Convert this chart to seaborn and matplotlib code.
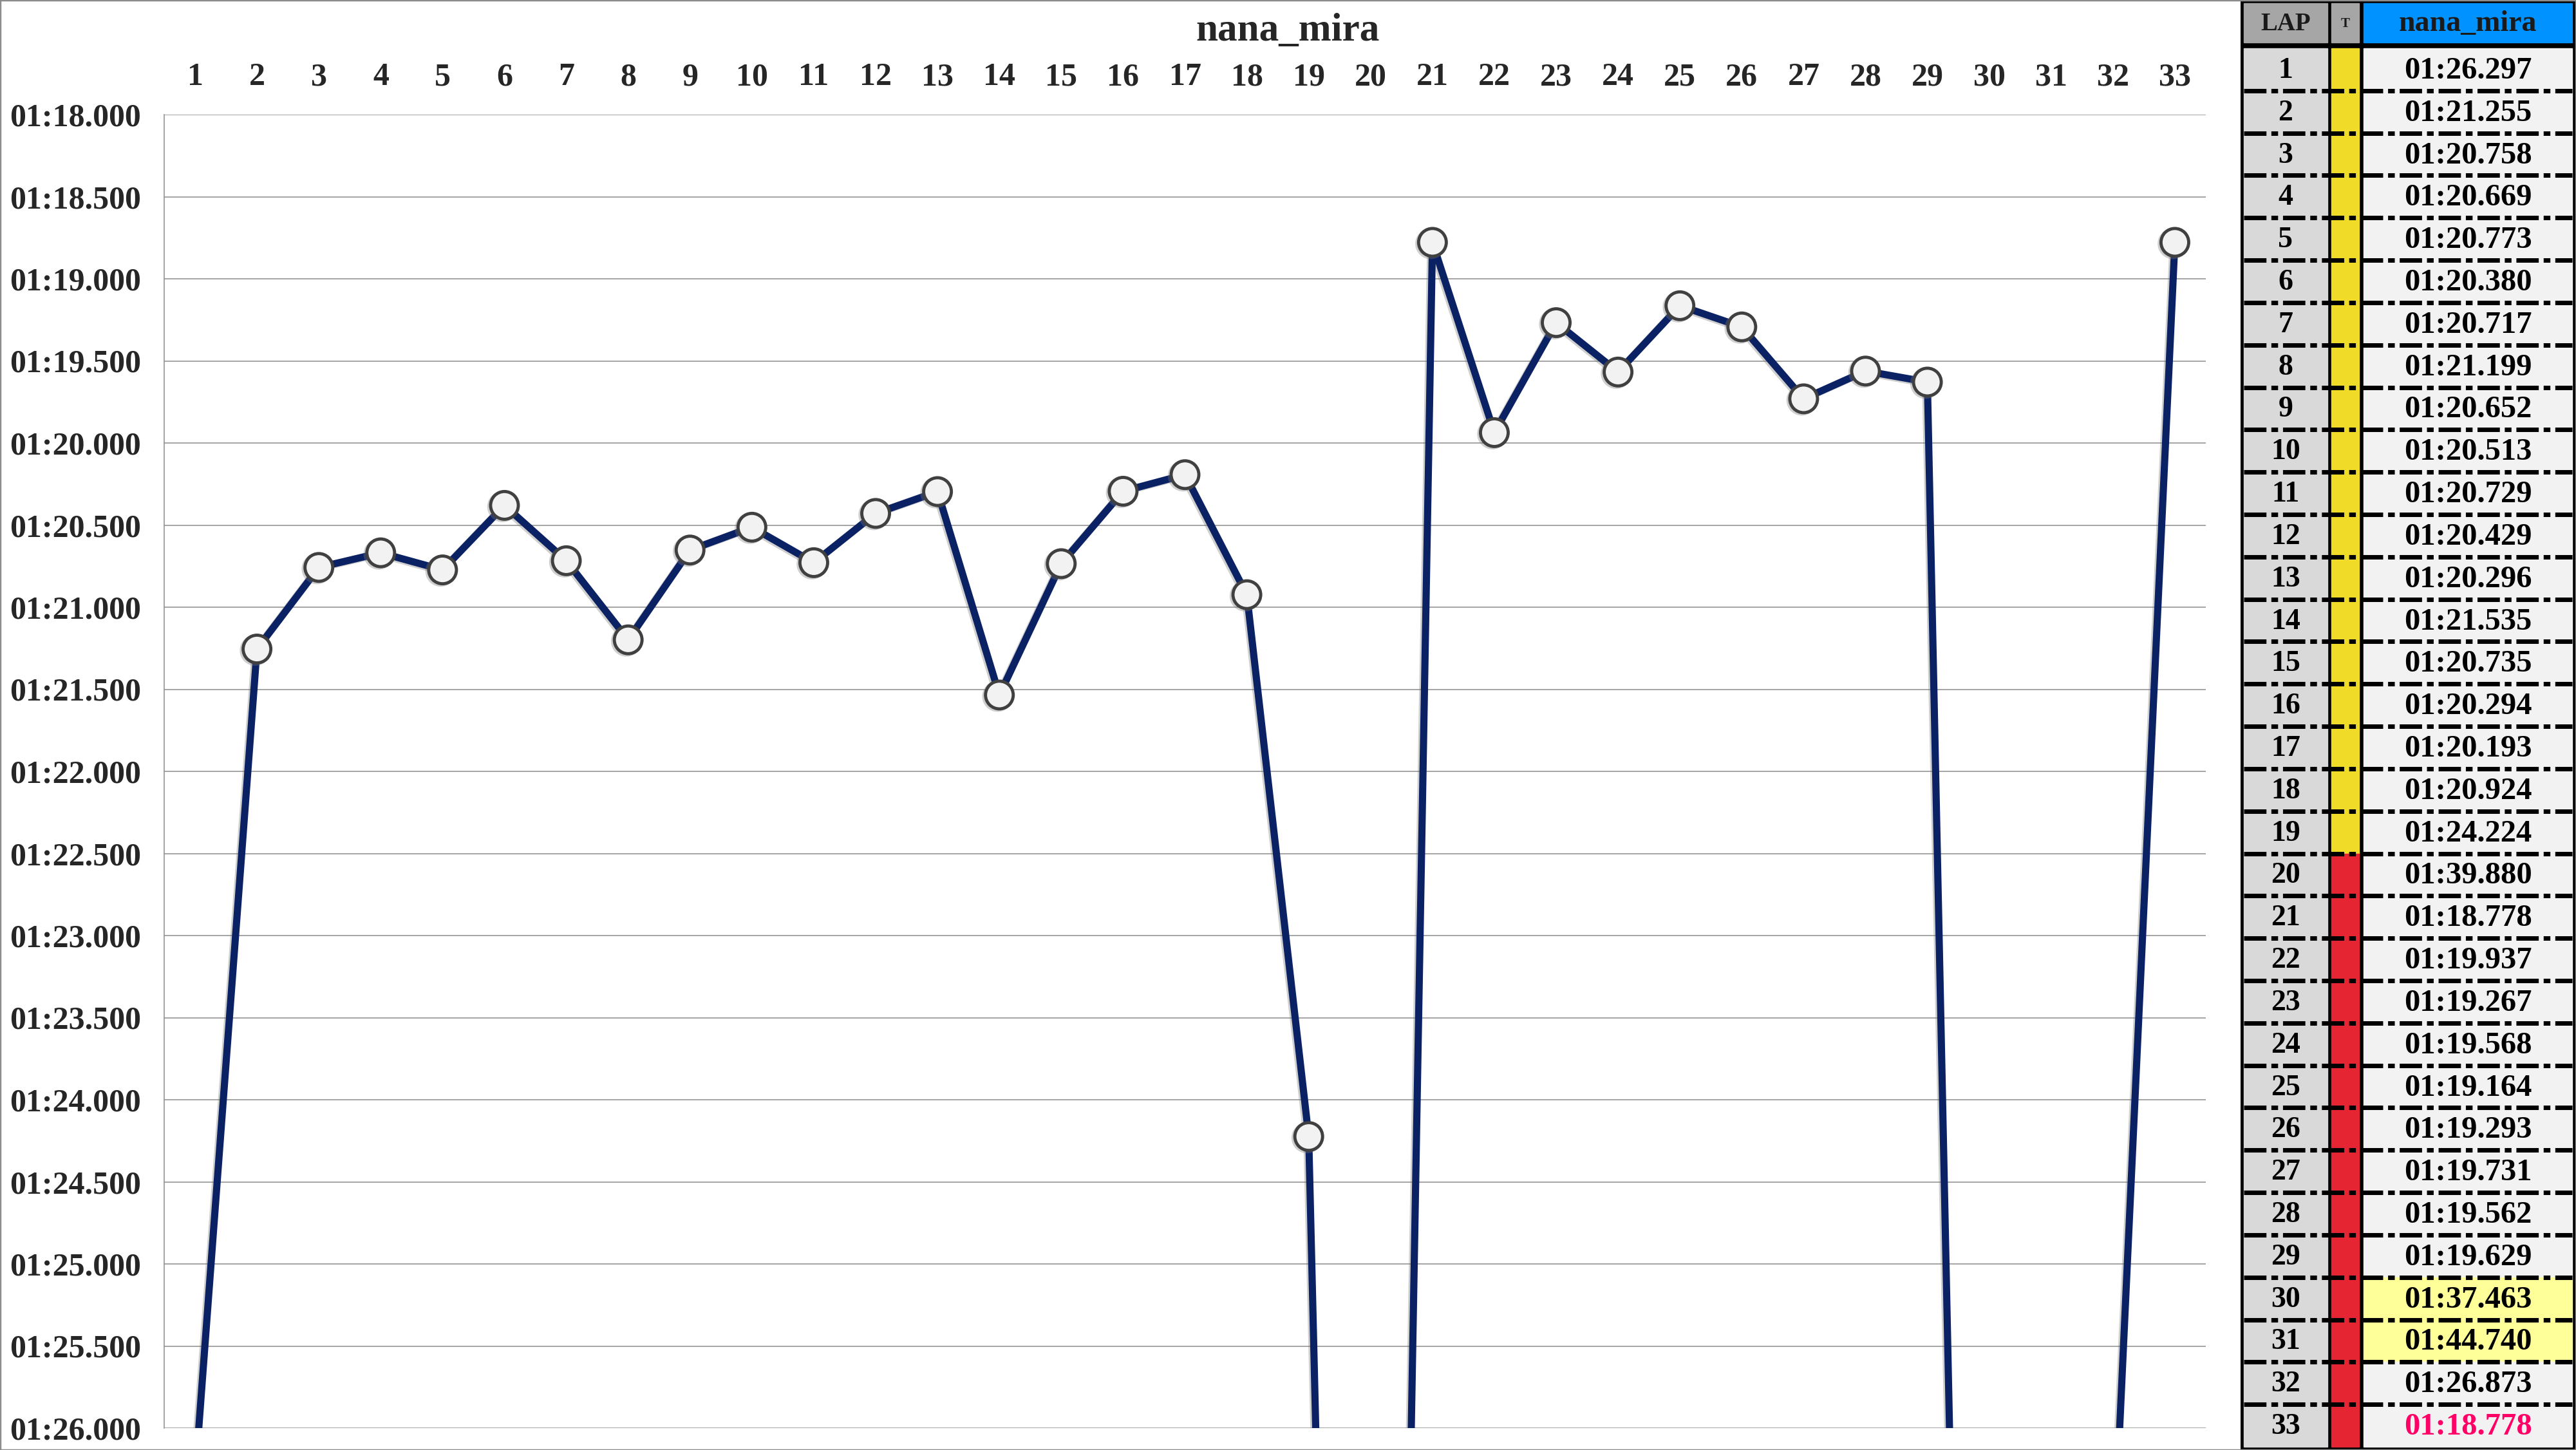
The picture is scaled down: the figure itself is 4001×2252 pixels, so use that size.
import matplotlib
matplotlib.use("Agg")
import matplotlib.pyplot as plt
import matplotlib.patheffects as pe
from matplotlib.patches import Rectangle
from matplotlib.ticker import FuncFormatter, MultipleLocator
import seaborn as sns
import pandas as pd

# ========== Data ==========
driver = "nana_mira"
laps = list(range(1, 34))
lap_times = [
    "01:26.297", "01:21.255", "01:20.758", "01:20.669", "01:20.773", "01:20.380",
    "01:20.717", "01:21.199", "01:20.652", "01:20.513", "01:20.729", "01:20.429",
    "01:20.296", "01:21.535", "01:20.735", "01:20.294", "01:20.193", "01:20.924",
    "01:24.224", "01:39.880", "01:18.778", "01:19.937", "01:19.267", "01:19.568",
    "01:19.164", "01:19.293", "01:19.731", "01:19.562", "01:19.629", "01:37.463",
    "01:44.740", "01:26.873", "01:18.778",
]
tyres = ["Y"] * 19 + ["R"] * 14
pit_laps = [30, 31]
best_lap = 33


def to_sec(t):
    m, s = t.split(":")
    return int(m) * 60 + float(s)


df = pd.DataFrame({"lap": laps, "time": lap_times})
df["sec"] = df["time"].apply(to_sec)

# ========== Style ==========
W, H = 4001, 2252
sns.set_style("white")
plt.rcParams["font.family"] = ["Liberation Serif", "DejaVu Serif"]
plt.rcParams["font.weight"] = "bold"

fig = plt.figure(figsize=(W / 100, H / 100), dpi=100)

# outer gray frame
fig.patches.append(Rectangle((0, 0), 1, 1, transform=fig.transFigure, fill=False,
                             edgecolor="#8c8c8c", lw=2.5, zorder=0))

# ========== Line chart ==========
px_l, px_r, px_t, px_b = 255, 3426, 178, 2218
ax = fig.add_axes([px_l / W, 1 - px_b / H, (px_r - px_l) / W, (px_b - px_t) / H])

sns.lineplot(data=df, x="lap", y="sec", ax=ax, color="#0a2164", linewidth=8,
             marker="o", markersize=31, markerfacecolor="#f2f2f2",
             markeredgecolor="#404040", markeredgewidth=3.5, sort=False,
             path_effects=[pe.SimpleLineShadow(offset=(-2, -1.5), shadow_color="#777777", alpha=0.35),
                           pe.Normal()])

ax.set_xlim(0.5, 33.5)
ax.set_ylim(86, 78)
ax.yaxis.set_major_locator(MultipleLocator(0.5))
ax.yaxis.set_major_formatter(FuncFormatter(lambda v, p: f"{int(v // 60):02d}:{v - 60 * int(v // 60):06.3f}"))
ax.set_xticks(laps)
ax.xaxis.tick_top()
ax.tick_params(axis="x", length=0, pad=25, labelsize=36)
ax.tick_params(axis="y", length=0, pad=26, labelsize=36)
ax.grid(axis="y", color="#8c8c8c", lw=1.1)
ax.grid(axis="x", visible=False)
ax.set_xlabel("")
ax.set_ylabel("")
for s in ["top", "right", "bottom"]:
    ax.spines[s].set_visible(False)
ax.spines["left"].set_color("#8c8c8c")
ax.spines["left"].set_linewidth(1.1)

fig.text(0.5, 1 - 48 / H, driver, ha="center", va="center", fontsize=44, weight="bold")

# ========== Lap table ==========
tx0 = 3480
axt = fig.add_axes([tx0 / W, 0, (W - tx0) / W, 1])
axt.set_xlim(tx0, W)
axt.set_ylim(H, 0)
axt.axis("off")
axt.add_patch(Rectangle((tx0, 0), W - tx0, H, color="black", zorder=0))

cols = [(3485, 3615), (3621, 3664), (3671, 3995)]
head_top, head_bot = 5, 66
body_top, body_bot = 75, 2247
rh = (body_bot - body_top) / len(laps)

# header
for (x0, x1), txt, col, fs in zip(cols, ["LAP", "T", driver], ["#a6a6a6", "#a6a6a6", "#0092ff"], [28, 15, 33]):
    axt.add_patch(Rectangle((x0, head_top), x1 - x0, head_bot - head_top, color=col, zorder=1))
    axt.text((x0 + x1) / 2, (head_top + head_bot) / 2 + 2, txt, ha="center", va="center",
             fontsize=fs, weight="bold", color="#1a1a1a", zorder=3)

tyre_colors = {"Y": "#f0dc28", "R": "#e52632"}
for i, (lap, t, ty) in enumerate(zip(laps, lap_times, tyres)):
    y0 = body_top + i * rh
    yc = y0 + rh / 2 + 2
    axt.add_patch(Rectangle((cols[0][0], y0), cols[0][1] - cols[0][0], rh, color="#d9d9d9", zorder=1))
    axt.add_patch(Rectangle((cols[1][0], y0), cols[1][1] - cols[1][0], rh, color=tyre_colors[ty], zorder=1))
    vcol = "#ffff99" if lap in pit_laps else "#f2f2f2"
    axt.add_patch(Rectangle((cols[2][0], y0), cols[2][1] - cols[2][0], rh, color=vcol, zorder=1))
    axt.text(sum(cols[0]) / 2, yc, str(lap), ha="center", va="center", fontsize=33,
             weight="bold", color="black", zorder=3)
    tcol = "#ff0066" if lap == best_lap else "black"
    axt.text(sum(cols[2]) / 2, yc, t, ha="center", va="center", fontsize=35,
             weight="bold", color=tcol, zorder=3)
    if i > 0:
        axt.plot([cols[0][0], cols[2][1]], [y0, y0], color="black", lw=5,
                 dashes=(5.0, 1.1, 1.5, 1.1), solid_capstyle="butt", dash_capstyle="butt", zorder=2)

fig.savefig("out.png", dpi=100)
